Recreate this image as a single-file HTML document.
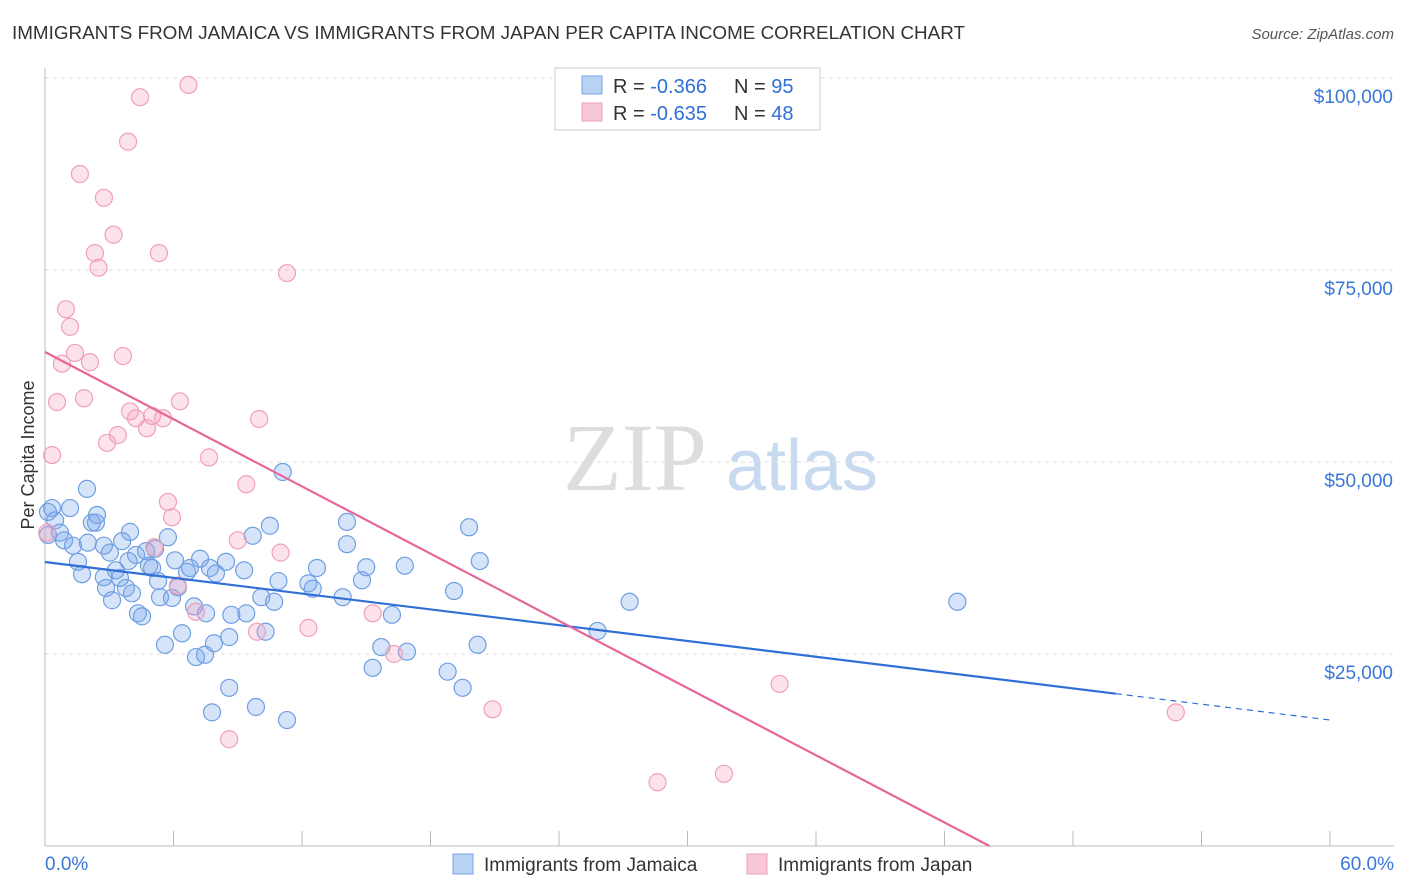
<!DOCTYPE html>
<html><head><meta charset="utf-8"><style>
body{margin:0;background:#fff;font-family:"Liberation Sans",sans-serif;}
svg{display:block}
</style></head><body>
<svg id="chart" width="1406" height="892">
<text x="12" y="39" font-size="18" fill="#333" textLength="953" lengthAdjust="spacingAndGlyphs">IMMIGRANTS FROM JAMAICA VS IMMIGRANTS FROM JAPAN PER CAPITA INCOME CORRELATION CHART</text>
<text x="1394" y="39" font-size="15" fill="#555" font-style="italic" text-anchor="end">Source: ZipAtlas.com</text>
<text x="635" y="490" font-size="96" fill="#ddd" font-family="Liberation Serif,serif" text-anchor="middle">ZIP</text>
<text x="802" y="490" font-size="72" fill="#c8daf0" text-anchor="middle">atlas</text>
<text x="34" y="455" font-size="18" fill="#333" text-anchor="middle" transform="rotate(-90 34 455)">Per Capita Income</text>
<g id="grid"></g><g id="axes"></g><g id="pts"></g><g id="lines"></g>
<g>
<rect x="555" y="68" width="265" height="62" fill="#fff" stroke="#ccc"/>
<rect x="582" y="76" width="20" height="18" fill="#b8d2f4" stroke="#7aa6e6"/>
<rect x="582" y="103" width="20" height="18" fill="#f9c8d6" stroke="#f0a0b8"/>
<text x="613" y="93" font-size="20" fill="#333">R = <tspan fill="#2f6fd6">-0.366</tspan></text>
<text x="734" y="93" font-size="20" fill="#333">N = <tspan fill="#2f6fd6">95</tspan></text>
<text x="613" y="120" font-size="20" fill="#333">R = <tspan fill="#2f6fd6">-0.635</tspan></text>
<text x="734" y="120" font-size="20" fill="#333">N = <tspan fill="#2f6fd6">48</tspan></text>
</g>
<g>
<rect x="453" y="854" width="20" height="20" fill="#b8d2f4" stroke="#7aa6e6"/>
<text x="484" y="871" font-size="19" fill="#333">Immigrants from Jamaica</text>
<rect x="747" y="854" width="20" height="20" fill="#f9c8d6" stroke="#f0a0b8"/>
<text x="778" y="871" font-size="19" fill="#333">Immigrants from Japan</text>
</g>
</svg>
<script>
const xTickLabels=["0.0%","60.0%"];
const yTicks=[25000,50000,75000,100000];
const yTickLabels=["$25,000","$50,000","$75,000","$100,000"];
const jamaicaX=[0.14,0.33,0.47,0.7,0.89,1.17,1.31,1.54,1.73,1.96,2.0,2.19,2.38,2.43,2.75,2.85,3.03,3.13,3.31,3.5,3.6,3.78,3.97,4.06,4.25,4.34,4.53,4.72,4.86,5.0,5.14,5.28,5.37,5.6,5.74,5.93,6.07,6.21,6.4,6.63,6.77,6.96,7.05,7.24,7.47,7.52,7.7,7.89,7.98,8.45,8.6,8.7,8.6,7.8,9.3,9.4,9.7,9.85,10.1,10.3,10.5,10.7,10.9,11.1,11.3,12.3,12.5,12.7,13.9,14.1,14.1,14.8,15.0,15.3,15.7,16.2,16.8,16.9,18.8,19.1,19.5,19.8,20.3,20.2,25.8,27.3,42.6,0.14,2.75,3.9];
const jamaicaY=[40.5,44.0,42.4,40.8,39.8,44.0,39.1,37.0,35.4,46.5,39.5,42.1,42.1,43.1,35.0,33.6,38.2,32.0,35.9,34.9,39.7,33.6,40.9,32.9,37.9,30.3,29.9,38.4,36.5,36.2,38.7,34.5,32.4,26.2,40.2,32.3,37.2,33.7,27.7,35.7,36.2,31.2,24.6,37.4,24.9,30.3,36.2,26.4,35.5,37.0,27.2,30.1,20.6,17.4,35.9,30.3,40.4,18.1,32.4,27.9,41.7,31.8,34.5,48.7,16.4,34.2,33.5,36.2,32.4,39.3,42.2,34.6,36.3,23.2,25.9,30.1,36.5,25.3,22.7,33.2,20.6,41.5,37.1,26.2,28.0,31.8,31.8,43.5,39.1,37.1];
const japanX=[0.1,0.33,0.56,0.79,0.98,1.17,1.4,1.63,1.82,2.1,2.33,2.5,2.75,2.9,3.2,3.4,3.64,3.88,3.97,4.25,4.44,4.76,5.0,5.32,5.51,5.74,5.93,6.3,6.2,6.7,7.05,7.66,8.6,9.0,9.4,9.9,10.0,11.0,11.3,12.3,15.3,16.3,20.9,28.6,31.7,34.3,52.8,5.1];
const japanY=[40.8,50.9,57.8,62.8,69.9,67.6,64.2,87.5,58.3,63.0,77.2,75.3,84.4,52.5,79.6,53.5,63.8,91.7,56.6,55.7,97.5,54.4,56.0,77.2,55.7,44.8,42.8,57.9,33.9,99.1,30.5,50.6,13.9,39.8,47.1,27.9,55.6,38.2,74.6,28.4,30.3,25.0,17.8,8.3,9.4,21.1,17.4,38.9];
const jamaicaTrend=[36979,16406];
const japanTrend=[64323,0];
const japanTrendEndX=44.1;
const X=v=>45+v*1285/60, Y=v=>846-v*192/25000;
const NS="http://www.w3.org/2000/svg";
function mk(tag,attrs,parent){const e=document.createElementNS(NS,tag);for(const k in attrs)e.setAttribute(k,attrs[k]);document.getElementById(parent).appendChild(e);return e;}
yTicks.forEach((t,i)=>{
 const l=mk('line',{x1:45,x2:1394,y1:Y(t),y2:Y(t),stroke:'#ddd','stroke-dasharray':'4,4'},'grid');
 
 
 const tx=mk('text',{x:1393,y:Y(t)+25,'font-size':19,fill:'#3a78d8','text-anchor':'end'},'axes');
 tx.textContent=yTickLabels[i];
 
 
});
mk('line',{x1:45,x2:1394,y1:846,y2:846,stroke:'#bbb'},'axes');
mk('line',{x1:45,x2:45,y1:68,y2:846,stroke:'#bbb'},'axes');
for(let i=0;i<=10;i++){mk('line',{x1:X(i*6),x2:X(i*6),y1:831,y2:846,stroke:'#bbb'},'axes');}
[[0,'start',45],[1,'end',1394]].forEach(([i,a,x])=>{const t=mk('text',{x:x,y:870,'font-size':19,fill:'#3a78d8','text-anchor':a},'axes');t.textContent=xTickLabels[i];
 
 });
jamaicaX.forEach((v,i)=>{const c=mk('circle',{cx:X(v),cy:Y(jamaicaY[i]*1000),r:8.5,fill:'rgba(120,165,235,0.3)',stroke:'#6f9fe2','stroke-width':1.2},'pts');
 
 });
japanX.forEach((v,i)=>{const c=mk('circle',{cx:X(v),cy:Y(japanY[i]*1000),r:8.5,fill:'rgba(245,160,190,0.3)',stroke:'#f0a0b8','stroke-width':1.2},'pts');
 
 });
const jy=x=>jamaicaTrend[0]+(jamaicaTrend[1]-jamaicaTrend[0])*x/60;
const l1=mk('line',{x1:X(0),y1:Y(jy(0)),x2:X(50),y2:Y(jy(50)),stroke:'#2f6fd6','stroke-width':2.2},'lines');


const l2=mk('line',{x1:X(50),y1:Y(jy(50)),x2:X(60),y2:Y(jy(60)),stroke:'#2f6fd6','stroke-width':1.2,'stroke-dasharray':'6,5'},'lines');


const l3=mk('line',{x1:X(0),y1:Y(japanTrend[0]),x2:X(japanTrendEndX),y2:Y(japanTrend[1]),stroke:'#e8659a','stroke-width':2.2},'lines');


</script>
</body></html>
